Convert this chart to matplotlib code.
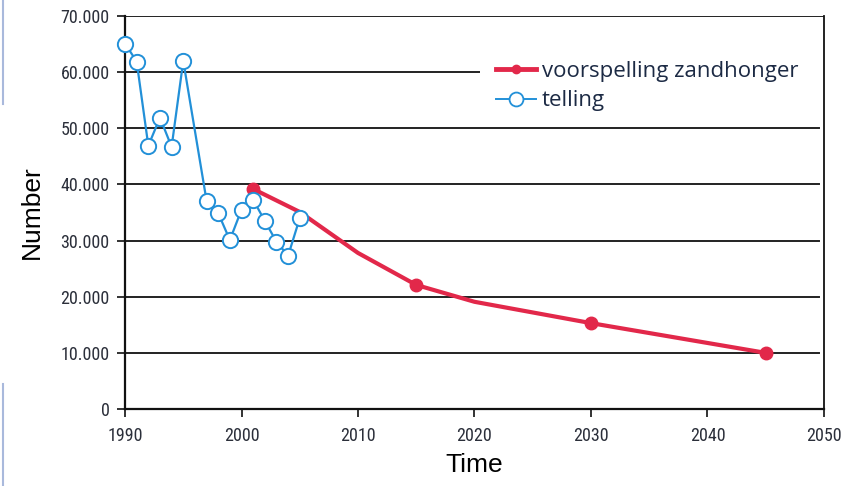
import matplotlib
matplotlib.use("Agg")
import matplotlib.pyplot as plt
from matplotlib import font_manager
from matplotlib.lines import Line2D
from matplotlib.patches import Rectangle
from matplotlib.ticker import FuncFormatter

# counted numbers (telling)
count_years = [1990, 1991, 1992, 1993, 1994, 1995, 1997, 1998, 1999, 2000, 2001, 2002, 2003, 2004, 2005]
count_vals = [65100, 61900, 46900, 51900, 46700, 62000, 37100, 34900, 30100, 35500, 37300, 33500, 29800, 27300, 34000]

# forecast (voorspelling zandhonger)
fc_years = [2001, 2005, 2010, 2015, 2020, 2030, 2045]
fc_vals = [39200, 35100, 27800, 22100, 19100, 15300, 10000]
fc_marked = [0, 3, 5, 6]

yticks = [0, 10000, 20000, 30000, 40000, 50000, 60000, 70000]
xticks = [1990, 2000, 2010, 2020, 2030, 2040, 2050]
legend_labels = ["voorspelling zandhonger", "telling"]

RED = "#e2284a"
BLUE = "#2290d8"

installed = {f.name for f in font_manager.fontManager.ttflist}
narrow = next((n for n in ["Liberation Sans Narrow", "DejaVu Sans Condensed", "Roboto Condensed",
                           "Open Sans Condensed", "Liberation Sans"] if n in installed), "DejaVu Sans")
TICKFONT = [narrow, "DejaVu Sans"]
ARIAL = ["Liberation Sans", "DejaVu Sans"]

fig = plt.figure(figsize=(8.47, 4.86), dpi=100)
ax = fig.add_axes([0.1476, 0.1584, 0.8252, 0.8086])

for v in yticks[1:-1]:
    ax.axhline(v, xmax=0.993, color="#222222", lw=1.4, zorder=1)
ax.axhline(yticks[-1], color="#222222", lw=1.4, zorder=1)

# white block behind the legend (hides part of the 60.000 line)
ax.add_patch(Rectangle((0.508, 0.74), 0.49, 0.17, transform=ax.transAxes,
                       facecolor="white", edgecolor="none", zorder=2))

ax.plot(fc_years, fc_vals, "-o", color=RED, lw=3, ms=9, markevery=fc_marked, zorder=3)
ax.plot(count_years, count_vals, "-o", color=BLUE, lw=1.6, ms=11, mfc="white", mec=BLUE, mew=1.4,
        zorder=4, clip_on=False)

ax.set_xlim(1990, 2050)
ax.set_ylim(0, 70000)
ax.set_xticks(xticks)
ax.set_yticks(yticks)
ax.yaxis.set_major_formatter(FuncFormatter(lambda v, p: f"{int(v):,}".replace(",", ".")))
ax.tick_params(direction="out", length=6, width=1.2, colors="#111111", labelcolor="#2b2f3a", labelsize=13)
for lab in ax.get_xticklabels() + ax.get_yticklabels():
    lab.set_family(TICKFONT)
ax.tick_params(axis="x", pad=7)
ax.tick_params(axis="y", pad=5)

ax.spines["top"].set_visible(False)
for s in ["left", "bottom", "right"]:
    ax.spines[s].set_linewidth(1.6)
    ax.spines[s].set_color("#111111")
ax.spines["right"].set_linewidth(1.3)

ax.set_xlabel("Time", fontsize=19, family=ARIAL, labelpad=6)
ax.set_ylabel("Number", fontsize=19, family=ARIAL, labelpad=12)

handles = [
    Line2D([], [], color=RED, lw=3.5, marker="o", ms=6),
    Line2D([], [], color=BLUE, lw=1.4, marker="o", ms=10, mfc="white", mec=BLUE, mew=1.3),
]
leg = ax.legend(handles, legend_labels, loc="center left",
                bbox_to_anchor=(0.515, 0.822), frameon=False,
                prop={"family": ["Open Sans", "DejaVu Sans"], "size": 16},
                handlelength=1.8, handletextpad=0.25, labelspacing=0.4, borderpad=0.0)
for t in leg.get_texts():
    t.set_color("#1c2a44")
leg.set_zorder(5)

# light blue slide edge marks on the far left
fig.add_artist(Line2D([0.003, 0.003], [1.0, 0.785], color="#a9b9dc", lw=1.5))
fig.add_artist(Line2D([0.003, 0.003], [0.21, 0.0], color="#a9b9dc", lw=1.5))

fig.savefig("out.png", dpi=100)
